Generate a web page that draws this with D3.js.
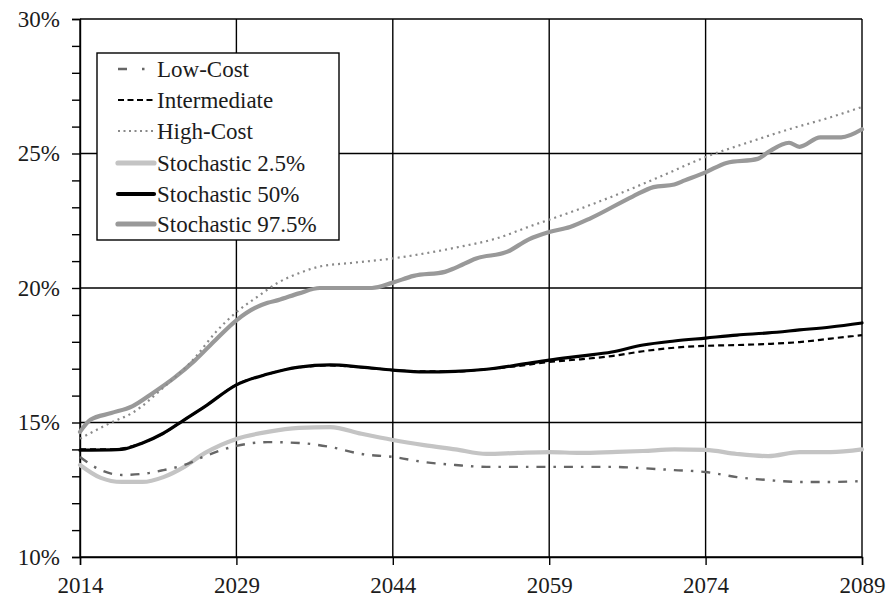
<!DOCTYPE html>
<html>
<head>
<meta charset="utf-8">
<script src="https://cdn.jsdelivr.net/npm/d3@7"></script>
<style>
  html, body { margin: 0; padding: 0; background: #fff; }
  svg text { font-family: "Liberation Serif", "Times New Roman", serif; fill: #1c1c1c; }
</style>
</head>
<body>
<svg id="chart" width="889" height="597"></svg>
<script>
// Cost rate (% of taxable payroll), projection years 2014-2089
const xTicks = [2014, 2029, 2044, 2059, 2074, 2089];
const yTicks = [10, 15, 20, 25, 30];
const yMinorTicks = d3.range(10, 31, 1);

const lowCostYears = [2014, 2016, 2018, 2020, 2022, 2024, 2026, 2029, 2032, 2035, 2038, 2041, 2044, 2047, 2050, 2053, 2056, 2059, 2062, 2065, 2068, 2071, 2074, 2077, 2080, 2083, 2086, 2089];
const lowCost      = [13.72, 13.23, 13.05, 13.09, 13.23, 13.42, 13.75, 14.13, 14.27, 14.24, 14.09, 13.83, 13.72, 13.53, 13.42, 13.35, 13.35, 13.35, 13.35, 13.35, 13.30, 13.23, 13.16, 12.97, 12.86, 12.79, 12.79, 12.82];

const intermediateYears = [2014, 2017, 2020, 2022, 2024, 2026, 2029, 2032, 2035, 2038, 2041, 2044, 2047, 2050, 2053, 2056, 2059, 2062, 2065, 2068, 2071, 2074, 2077, 2080, 2083, 2086, 2089];
const intermediate      = [14.00, 14.00, 14.24, 14.60, 15.10, 15.60, 16.40, 16.80, 17.05, 17.12, 17.05, 16.95, 16.90, 16.90, 16.98, 17.10, 17.25, 17.35, 17.47, 17.65, 17.78, 17.85, 17.88, 17.92, 17.99, 18.12, 18.25];

const highCostYears = [2014, 2017, 2019, 2022, 2025, 2027, 2029, 2031, 2033, 2035, 2037, 2040, 2044, 2050, 2054, 2057, 2062, 2066, 2070, 2074, 2078, 2082, 2086, 2089];
const highCost      = [14.40, 15.00, 15.35, 16.30, 17.40, 18.35, 19.10, 19.67, 20.20, 20.55, 20.80, 20.93, 21.10, 21.50, 21.85, 22.27, 22.95, 23.55, 24.20, 24.87, 25.40, 25.90, 26.35, 26.73];

const stoch025Years = [2014, 2016, 2018, 2020, 2022, 2024, 2026, 2029, 2032, 2035, 2038, 2041, 2044, 2047, 2050, 2053, 2056, 2059, 2062, 2065, 2068, 2071, 2074, 2077, 2080, 2083, 2086, 2089];
const stoch025      = [13.42, 12.94, 12.79, 12.79, 12.97, 13.35, 13.87, 14.39, 14.65, 14.80, 14.83, 14.58, 14.35, 14.16, 14.00, 13.83, 13.87, 13.90, 13.87, 13.90, 13.94, 14.00, 13.98, 13.83, 13.75, 13.90, 13.90, 14.00];

const stoch50Years = [2014, 2017, 2018, 2020, 2022, 2024, 2026, 2029, 2032, 2035, 2038, 2041, 2044, 2047, 2050, 2053, 2056, 2059, 2062, 2065, 2068, 2071, 2074, 2077, 2080, 2083, 2086, 2089];
const stoch50      = [13.97, 13.98, 14.00, 14.24, 14.60, 15.10, 15.60, 16.40, 16.80, 17.06, 17.14, 17.06, 16.95, 16.88, 16.90, 16.98, 17.14, 17.32, 17.47, 17.62, 17.88, 18.03, 18.14, 18.25, 18.33, 18.44, 18.55, 18.70];

const stoch975Years = [2014, 2015, 2017, 2019, 2021, 2023, 2025, 2027, 2029, 2031, 2032, 2033, 2035, 2037, 2039, 2042, 2044, 2046, 2049, 2050, 2052, 2055, 2057, 2059, 2061, 2063, 2067, 2069, 2071, 2072, 2074, 2076, 2079, 2080, 2082, 2083, 2085, 2087, 2089];
const stoch975      = [14.65, 15.10, 15.35, 15.60, 16.10, 16.65, 17.30, 18.07, 18.80, 19.30, 19.45, 19.55, 19.80, 20.00, 20.00, 20.00, 20.20, 20.45, 20.60, 20.75, 21.10, 21.35, 21.80, 22.08, 22.27, 22.60, 23.40, 23.75, 23.85, 24.00, 24.30, 24.65, 24.80, 25.05, 25.40, 25.25, 25.60, 25.60, 25.90];

const seriesNames = ["Low-Cost", "Intermediate", "High-Cost", "Stochastic 2.5%", "Stochastic 50%", "Stochastic 97.5%"];

// Line styling per series
const styles = {
  "Low-Cost":         { color: "#666666", width: 2.4, dash: "9,8,2.5,8", legendDash: "9,15,2.5,20" },
  "Intermediate":     { color: "#000000", width: 2.2, dash: "6,4", legendDash: "6,3.5" },
  "High-Cost":        { color: "#8a8a8a", width: 2.2, dash: "2,4", legendDash: "2,3.5" },
  "Stochastic 2.5%":  { color: "#c4c4c4", width: 4.2, dash: null },
  "Stochastic 50%":   { color: "#000000", width: 3.2, dash: null },
  "Stochastic 97.5%": { color: "#999999", width: 4.2, dash: null }
};

const seriesData = {
  "Low-Cost": d3.zip(lowCostYears, lowCost),
  "Intermediate": d3.zip(intermediateYears, intermediate),
  "High-Cost": d3.zip(highCostYears, highCost),
  "Stochastic 2.5%": d3.zip(stoch025Years, stoch025),
  "Stochastic 50%": d3.zip(stoch50Years, stoch50),
  "Stochastic 97.5%": d3.zip(stoch975Years, stoch975)
};

const svg = d3.select("#chart");
const plotLeft = 80, plotRight = 862, plotTop = 19, plotBottom = 557;
const fontSize = 23;

const x = d3.scaleLinear().domain([2014, 2089]).range([plotLeft, plotRight]);
const y = d3.scaleLinear().domain([10, 30]).range([plotBottom, plotTop]);

// Gridlines
const grid = svg.append("g");
grid.selectAll("line.h").data(yTicks).join("line")
  .attr("x1", plotLeft).attr("x2", plotRight)
  .attr("y1", d => y(d)).attr("y2", d => y(d))
  .attr("stroke", "#000").attr("stroke-width", 1.4);
grid.selectAll("line.v").data(xTicks).join("line")
  .attr("y1", plotTop).attr("y2", plotBottom)
  .attr("x1", d => x(d)).attr("x2", d => x(d))
  .attr("stroke", "#000").attr("stroke-width", 1.4);

// Y axis: minor ticks every 1%, labels every 5%
const yAxisMinor = d3.axisLeft(y).tickValues(yMinorTicks).tickSize(8).tickFormat("");
const gy = svg.append("g").attr("transform", `translate(${plotLeft},0)`).call(yAxisMinor);
gy.select(".domain").attr("stroke-width", 1.4);
gy.selectAll(".tick line").attr("stroke-width", 1.4);

const yAxisLabels = d3.axisLeft(y).tickValues(yTicks).tickSize(0).tickPadding(20).tickFormat(d => d + "%");
const gyl = svg.append("g").attr("transform", `translate(${plotLeft},0)`).call(yAxisLabels);
gyl.select(".domain").remove();
gyl.attr("font-family", null).attr("font-size", null);
gyl.selectAll(".tick text").attr("font-size", fontSize).attr("fill", "#1c1c1c");

// X axis
const xAxis = d3.axisBottom(x).tickValues(xTicks).tickSize(8).tickPadding(12).tickFormat(d3.format("d"));
const gx = svg.append("g").attr("transform", `translate(0,${plotBottom})`).call(xAxis);
gx.attr("font-family", null).attr("font-size", null);
gx.select(".domain").attr("stroke-width", 1.4);
gx.selectAll(".tick line").attr("stroke-width", 1.4);
gx.selectAll(".tick text").attr("font-size", fontSize).attr("fill", "#1c1c1c");

// Series lines: stochastic bands first, deterministic scenarios on top
const line = d3.line().x(d => x(d[0])).y(d => y(d[1])).curve(d3.curveMonotoneX);
const drawOrder = ["Stochastic 2.5%", "Stochastic 97.5%", "Stochastic 50%", "Low-Cost", "High-Cost", "Intermediate"];
const plot = svg.append("g");
drawOrder.forEach(name => {
  const s = styles[name];
  plot.append("path")
    .datum(seriesData[name])
    .attr("d", line)
    .attr("fill", "none")
    .attr("stroke", s.color)
    .attr("stroke-width", s.width)
    .attr("stroke-linejoin", "round")
    .attr("stroke-linecap", s.dash ? "butt" : "round")
    .attr("stroke-dasharray", s.dash);
});

// Legend
const legend = svg.append("g");
legend.append("rect")
  .attr("x", 97).attr("y", 53).attr("width", 242).attr("height", 187)
  .attr("fill", "#fff").attr("stroke", "#000").attr("stroke-width", 1.4);

const baselines = [77, 108, 139, 171, 202, 232];
seriesNames.forEach((name, i) => {
  const s = styles[name];
  const ly = baselines[i] - 8;
  legend.append("line")
    .attr("x1", 118).attr("x2", s.dash ? 155 : 154).attr("y1", ly).attr("y2", ly)
    .attr("stroke", s.color)
    .attr("stroke-width", s.dash ? s.width : s.width + 1)
    .attr("stroke-linecap", s.dash ? "butt" : "round")
    .attr("stroke-dasharray", s.legendDash || null);
  legend.append("text")
    .attr("x", 157).attr("y", baselines[i])
    .attr("font-size", fontSize)
    .text(name);
});
</script>
</body>
</html>
